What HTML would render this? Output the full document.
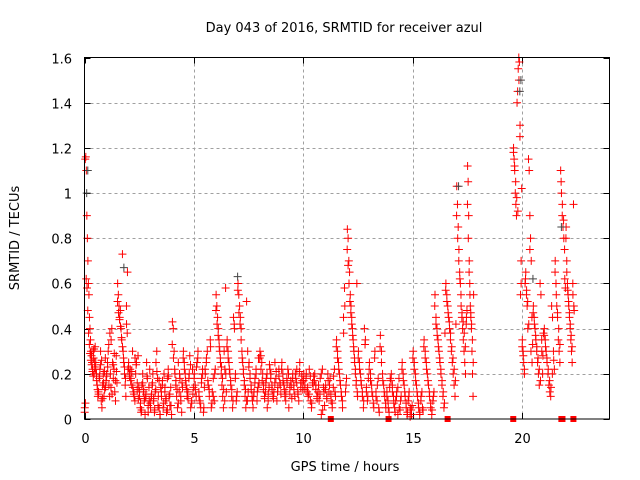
<!DOCTYPE html>
<html><head><meta charset="utf-8"><style>
html,body{margin:0;padding:0;background:#fff;}
svg{display:block;font-family:"DejaVu Sans","Liberation Sans",sans-serif;}
</style></head><body>
<svg id="chart" width="640" height="480" viewBox="0 0 640 480" xmlns="http://www.w3.org/2000/svg">
<rect x="0" y="0" width="640" height="480" fill="#fff"/>
<g id="grid"></g>
<g id="ticks"></g>
<g id="pts"></g>
<g id="gpts"></g>
<rect x="84.5" y="57.5" width="525" height="361.5" fill="none" stroke="#000" stroke-width="1"/>
<text x="344" y="32" font-size="13" text-anchor="middle">Day 043 of 2016, SRMTID for receiver azul</text>
<text x="345" y="471" font-size="13" text-anchor="middle">GPS time / hours</text>
<text x="19" y="238" font-size="13" text-anchor="middle" transform="rotate(-90 19 238)">SRMTID / TECUs</text>
</svg>
<script>
const xTicks=[0,5,10,15,20];
const yTicks=[0,0.2,0.4,0.6,0.8,1,1.2,1.4,1.6];
const yTickLabels=["0","0.2","0.4","0.6","0.8","1","1.2","1.4","1.6"];
// segments: [startHour, endHour]
const segStarts=[0,0.5,1,1.5,2,2.5,3,3.5,4,4.5,5,5.5,6,6.5,7,7.5,8,8.5,9,9.5,10,10.5,11,11.5,12,12.5,13,13.5,14,14.5,15,15.5,16,16.5,17,17.5,19.6,20,20.5,21,21.5,22];
const segEnds=[0.5,1,1.5,2,2.5,3,3.5,4,4.5,5,5.5,6,6.5,7,7.5,8,8.5,9,9.5,10,10.5,11,11.5,12,12.5,13,13.5,14,14.5,15,15.5,16,16.5,17,17.5,17.8,20,20.5,21,21.5,22,22.4];
const segValues=[
[0.05,1.15,1.16,1.1,0.9,0.8,0.7,0.6,0.55,0.45,0.4,0.35,0.3,0.28,0.25,0.22,0.3,0.27,0.2,0.25,0.32],
[0.25,0.2,0.15,0.1,0.12,0.18,0.22,0.3,0.08,0.05,0.15,0.2,0.1,0.13,0.27,0.17],
[0.2,0.25,0.3,0.15,0.1,0.2,0.35,0.4,0.25,0.18,0.22,0.12,0.08,0.28,0.16],
[0.6,0.55,0.5,0.45,0.48,0.4,0.35,0.73,0.3,0.25,0.2,0.15,0.1,0.42,0.38,0.22],
[0.25,0.2,0.22,0.18,0.15,0.3,0.12,0.1,0.08,0.2,0.25,0.16,0.28,0.14],
[0.1,0.05,0.03,0.15,0.2,0.12,0.08,0.02,0.1,0.25,0.18,0.06,0.14,0.22],
[0.05,0.1,0.15,0.2,0.08,0.03,0.12,0.25,0.3,0.18,0.1,0.05,0.02,0.14],
[0.1,0.15,0.05,0.2,0.12,0.08,0.03,0.18,0.22,0.1,0.06,0.14,0.02],
[0.43,0.4,0.3,0.2,0.15,0.1,0.05,0.25,0.12,0.18,0.08,0.03,0.14],
[0.3,0.25,0.2,0.15,0.1,0.12,0.18,0.28,0.05,0.08,0.22,0.14],
[0.2,0.15,0.1,0.25,0.3,0.12,0.08,0.05,0.18,0.22,0.03,0.14],
[0.2,0.25,0.3,0.15,0.1,0.35,0.05,0.12,0.18,0.08,0.22],
[0.55,0.5,0.45,0.4,0.35,0.3,0.25,0.2,0.15,0.1,0.05,0.3,0.22,0.58,0.12],
[0.35,0.3,0.25,0.2,0.15,0.1,0.05,0.45,0.4,0.18,0.08,0.12],
[0.6,0.55,0.5,0.45,0.4,0.3,0.25,0.2,0.15,0.1,0.05,0.52,0.08,0.12],
[0.25,0.2,0.15,0.1,0.05,0.12,0.18,0.22,0.08,0.14,0.16],
[0.3,0.28,0.25,0.2,0.15,0.1,0.12,0.18,0.05,0.08,0.14,0.22],
[0.2,0.15,0.1,0.12,0.25,0.18,0.08,0.14,0.22,0.16,0.11],
[0.25,0.2,0.15,0.1,0.12,0.18,0.22,0.05,0.14,0.17,0.09],
[0.2,0.15,0.1,0.18,0.22,0.12,0.08,0.25,0.16,0.19,0.13],
[0.2,0.15,0.18,0.12,0.1,0.22,0.08,0.05,0.16,0.19],
[0.2,0.15,0.1,0.12,0.08,0.18,0.02,0.22,0.14,0.06],
[0.15,0.1,0.2,0.12,0.18,0.08,0.05,0.14,0.22,0.1],
[0.35,0.3,0.25,0.2,0.15,0.1,0.05,0.45,0.58,0.12,0.18],
[0.84,0.8,0.7,0.65,0.55,0.5,0.45,0.4,0.35,0.3,0.25,0.2,0.15,0.6,0.1],
[0.3,0.25,0.2,0.15,0.1,0.05,0.4,0.35,0.12,0.08,0.18],
[0.25,0.2,0.15,0.1,0.05,0.3,0.12,0.08,0.18,0.03],
[0.37,0.3,0.2,0.15,0.1,0.05,0.12,0.08,0.03,0.18],
[0.2,0.15,0.1,0.05,0.08,0.12,0.02,0.18,0.04,0.1],
[0.25,0.2,0.15,0.1,0.05,0.02,0.08,0.12,0.01,0.04,0.06],
[0.3,0.25,0.2,0.15,0.1,0.05,0.02,0.08,0.12,0.04],
[0.35,0.3,0.25,0.2,0.15,0.1,0.05,0.02,0.08,0.12],
[0.55,0.45,0.4,0.35,0.3,0.25,0.2,0.15,0.1,0.05,0.38],
[0.6,0.55,0.5,0.45,0.4,0.35,0.3,0.25,0.2,0.15,0.1,0.42],
[1.03,0.95,0.85,0.75,0.65,0.6,0.5,0.45,0.4,0.35,0.3,0.25,0.2,0.42,0.48],
[1.12,1.05,0.9,0.7,0.6,0.5,0.45,0.4,0.3,0.2,0.1,0.55],
[1.2,1.15,1.1,1.0,0.95,0.9,1.4,1.45,1.55,1.6,1.58,1.25,0.55,0.7,1.02],
[0.35,0.3,0.25,0.2,0.6,0.65,0.55,0.5,0.4,1.15,1.1,0.9,0.8,0.7,0.45,0.33],
[0.5,0.45,0.4,0.35,0.3,0.25,0.2,0.15,0.6,0.55,0.3,0.2,0.38],
[0.4,0.35,0.3,0.25,0.2,0.15,0.12,0.1,0.5,0.45,0.3,0.22],
[0.7,0.6,0.5,0.45,0.35,0.3,0.25,1.1,1.0,0.9,0.85,0.8,0.75,0.58],
[0.85,0.7,0.6,0.55,0.5,0.45,0.4,0.35,0.3,0.25,0.6,0.95,0.48]
];
// second satellite track, same segments
const segValues2=[
[0.03,0.07,0.62,0.58,0.48,0.38,0.33,0.29,0.26,0.24,0.21,0.19,0.31,0.23],
[0.22,0.17,0.13,0.11,0.19,0.24,0.26,0.09,0.16,0.21,0.14],
[0.19,0.23,0.33,0.38,0.14,0.11,0.24,0.29,0.17,0.21],
[0.52,0.47,0.44,0.41,0.36,0.32,0.27,0.23,0.18,0.5,0.65],
[0.23,0.19,0.17,0.21,0.14,0.11,0.27,0.24,0.13,0.09],
[0.12,0.07,0.04,0.16,0.13,0.09,0.11,0.19,0.03,0.08],
[0.07,0.11,0.16,0.09,0.04,0.13,0.21,0.06,0.17,0.02],
[0.12,0.17,0.07,0.14,0.09,0.04,0.19,0.11,0.06],
[0.33,0.27,0.22,0.17,0.13,0.07,0.2,0.1,0.16],
[0.27,0.22,0.17,0.13,0.09,0.2,0.24,0.07,0.11],
[0.18,0.13,0.23,0.27,0.1,0.07,0.16,0.2,0.05],
[0.22,0.27,0.17,0.13,0.32,0.07,0.1,0.2],
[0.48,0.42,0.37,0.32,0.27,0.23,0.18,0.13,0.08,0.2],
[0.32,0.27,0.22,0.17,0.13,0.08,0.42,0.2,0.1],
[0.57,0.47,0.42,0.35,0.27,0.22,0.17,0.13,0.08,0.3],
[0.23,0.18,0.13,0.08,0.1,0.16,0.2,0.12,0.27],
[0.27,0.22,0.17,0.13,0.09,0.16,0.2,0.11,0.24],
[0.18,0.13,0.09,0.16,0.21,0.12,0.19,0.15],
[0.22,0.17,0.13,0.08,0.16,0.2,0.11,0.15],
[0.18,0.13,0.2,0.16,0.11,0.21,0.14,0.17],
[0.17,0.13,0.2,0.14,0.11,0.19,0.07,0.15],
[0.17,0.13,0.09,0.15,0.11,0.2,0.04,0.12],
[0.13,0.09,0.17,0.15,0.11,0.07,0.19,0.12],
[0.32,0.27,0.22,0.17,0.12,0.08,0.38,0.5,0.15],
[0.75,0.68,0.6,0.52,0.47,0.42,0.37,0.32,0.27,0.22,0.17,0.12],
[0.27,0.22,0.17,0.12,0.08,0.33,0.14,0.1],
[0.22,0.17,0.12,0.07,0.27,0.1,0.15,0.05],
[0.32,0.25,0.17,0.12,0.07,0.1,0.05,0.14],
[0.17,0.12,0.07,0.03,0.1,0.14,0.05,0.08],
[0.22,0.17,0.12,0.07,0.03,0.1,0.05,0.02],
[0.27,0.22,0.17,0.12,0.07,0.03,0.1,0.05],
[0.32,0.27,0.22,0.17,0.12,0.07,0.04,0.1],
[0.5,0.42,0.37,0.32,0.27,0.22,0.17,0.12,0.07],
[0.57,0.52,0.47,0.43,0.38,0.32,0.27,0.22,0.17],
[0.9,0.8,0.7,0.62,0.55,0.47,0.43,0.38,0.32,0.45],
[0.95,0.8,0.65,0.55,0.47,0.42,0.35,0.25],
[1.18,1.12,1.05,0.98,0.92,1.5,1.3,0.6],
[0.32,0.28,0.22,0.62,0.57,0.52,0.42,0.75,0.3,0.25],
[0.47,0.42,0.37,0.32,0.27,0.22,0.17,0.35,0.28],
[0.37,0.32,0.27,0.22,0.17,0.14,0.2,0.26],
[0.65,0.55,0.47,0.4,0.33,1.05,0.95,0.88,0.62],
[0.8,0.65,0.57,0.52,0.47,0.42,0.37,0.32,0.55,0.5]
];
const grayTimes=[0.1,0.15,1.8,7.0,17.1,19.9,19.95,21.8,20.5];
const grayValues=[1.0,1.1,0.67,0.63,1.03,1.45,1.5,0.85,0.62];
const zeroTimes=[11.26,13.9,16.6,19.6,21.8,21.85,22.35];

const X0=84.5,X1=609.5,Y0=419,Y1=57.5,XMAX=24,YMAX=1.6;
const xs=h=>X0+(X1-X0)*h/XMAX;
const ys=v=>Y0-(Y0-Y1)*v/YMAX;
const NS="http://www.w3.org/2000/svg";
function mk(tag,attrs,parent){const e=document.createElementNS(NS,tag);for(const k in attrs)e.setAttribute(k,attrs[k]);parent.appendChild(e);return e;}
const grid=document.getElementById('grid'),ticks=document.getElementById('ticks');
yTicks.forEach((v,i)=>{
  const y=Math.round(ys(v))+0.5;
  if(i>0&&i<yTicks.length-1){const g=mk('line',{x1:X0,x2:X1,y1:y,y2:y,stroke:'#a0a0a0','stroke-dasharray':'3,3'},grid);
  
  }
  mk('line',{x1:X0,x2:X0+6,y1:y,y2:y,stroke:'#000'},ticks);
  mk('line',{x1:X1-6,x2:X1,y1:y,y2:y,stroke:'#000'},ticks);
  const t=mk('text',{x:72,y:y+5,'font-size':13,'text-anchor':'end'},ticks);t.textContent=yTickLabels[i];
  
  
});
xTicks.forEach(h=>{
  const x=Math.round(xs(h))+0.5;
  if(h>0){const g=mk('line',{x1:x,x2:x,y1:Y1,y2:Y0,stroke:'#a0a0a0','stroke-dasharray':'3,3'},grid);
  
  }
  mk('line',{x1:x,x2:x,y1:Y0,y2:Y0-6,stroke:'#000'},ticks);
  mk('line',{x1:x,x2:x,y1:Y1,y2:Y1+6,stroke:'#000'},ticks);
  const t=mk('text',{x:x,y:443,'font-size':13,'text-anchor':'middle'},ticks);t.textContent=String(h);
  
  
});
function cross(g,h,v,col){
  const x=xs(h),y=ys(v);
  const p=mk('path',{d:`M${x-4},${y}H${x+4}M${x},${y-4}V${y+4}`,stroke:col,'stroke-width':1,fill:'none'},g);
  
  
}
const pts=document.getElementById('pts');
segValues.forEach((vals,i)=>{
  const a=segStarts[i],b=segEnds[i];
  vals.forEach((v,j)=>{cross(pts,a+(b-a)*(j+0.5)/vals.length,v,'#ff0000');});
});
segValues2.forEach((vals,i)=>{
  const a=segStarts[i],b=segEnds[i];
  vals.forEach((v,j)=>{cross(pts,a+(b-a)*(j+0.2)/vals.length,v,'#ff0000');});
});
const gp=document.getElementById('gpts');
grayTimes.forEach((h,i)=>cross(gp,h,grayValues[i],'#444'));
zeroTimes.forEach(h=>{
  const r=mk('rect',{x:xs(h)-3,y:Y0-3,width:6,height:6,fill:'#ff0000'},pts);
  
  
});
</script>
</body></html>
